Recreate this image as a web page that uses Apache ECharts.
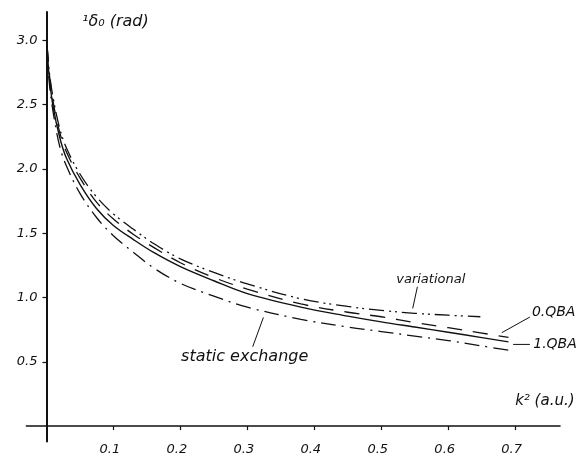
<!DOCTYPE html>
<html>
<head>
<meta charset="utf-8">
<script src="https://cdn.jsdelivr.net/npm/echarts@6/dist/echarts.min.js"></script>
<style>
  html, body { margin: 0; background: #fff; }
  #chart { width: 582px; height: 463px; }
</style>
</head>
<body>
<div id="chart"></div>
<script>
// k^2 (a.u.) sample points
var k2 = [0.001, 0.004, 0.01, 0.02, 0.03, 0.05, 0.075, 0.1, 0.13, 0.16, 0.2, 0.25, 0.3, 0.38, 0.45, 0.5, 0.55, 0.6, 0.648, 0.69];
// phase shift 1delta0 (rad) for each approximation
var qba1 = [2.95, 2.72, 2.48, 2.24, 2.08, 1.88, 1.69, 1.56, 1.45, 1.35, 1.24, 1.13, 1.03, 0.925, 0.855, 0.81, 0.77, 0.73, 0.69, 0.655];
var qba0 = [2.95, 2.75, 2.52, 2.28, 2.13, 1.93, 1.74, 1.61, 1.49, 1.39, 1.27, 1.155, 1.065, 0.95, 0.885, 0.85, 0.805, 0.765, 0.725, 0.69];
var variational = [2.95, 2.76, 2.55, 2.31, 2.16, 1.96, 1.78, 1.65, 1.53, 1.42, 1.30, 1.195, 1.105, 0.99, 0.93, 0.90, 0.877, 0.862, 0.85];
var staticEx = [2.95, 2.68, 2.44, 2.17, 2.02, 1.81, 1.62, 1.48, 1.35, 1.23, 1.11, 1.01, 0.925, 0.83, 0.77, 0.735, 0.70, 0.665, 0.625, 0.59];
// tick labels
var xTicks = [0.1, 0.2, 0.3, 0.4, 0.5, 0.6, 0.7];
var yTicks = [0.5, 1.0, 1.5, 2.0, 2.5, 3.0];

var font = 'DejaVu Sans';
var ink = '#111';

function pairs(xs, ys) {
  var out = [];
  for (var i = 0; i < ys.length; i++) out.push([xs[i], ys[i]]);
  return out;
}

function curve(name, ys, dash, width) {
  return {
    name: name,
    type: 'line',
    data: pairs(k2, ys),
    showSymbol: false,
    smooth: 0.35,
    silent: true,
    lineStyle: { color: ink, width: width, type: dash }
  };
}

var chart = echarts.init(document.getElementById('chart'));
chart.setOption({
  animation: false,
  backgroundColor: '#fff',
  grid: { left: 26.4, top: 12, width: 533.6, height: 429.5, containLabel: false, outerBoundsMode: 'none' },
  xAxis: {
    type: 'value',
    min: -0.03,
    max: 0.767,
    splitLine: { show: false },
    axisLine: { onZero: true, lineStyle: { color: ink, width: 1.6 } },
    axisTick: { customValues: xTicks, length: 4, lineStyle: { color: ink, width: 1.2 } },
    // labels sit at the grid edge, so pull them up under the zero line
    axisLabel: {
      customValues: xTicks, margin: 2, padding: [0, 7, 0, 0],
      color: ink, fontFamily: font, fontStyle: 'italic', fontSize: 13,
      formatter: function (v) { return v.toFixed(1); }
    }
  },
  yAxis: {
    type: 'value',
    min: -0.12,
    max: 3.22,
    splitLine: { show: false },
    axisLine: { onZero: true, lineStyle: { color: ink, width: 2 } },
    axisTick: { customValues: yTicks, length: 4, lineStyle: { color: ink, width: 1.2 } },
    axisLabel: {
      customValues: yTicks, margin: -11,
      color: ink, fontFamily: font, fontStyle: 'italic', fontSize: 13,
      formatter: function (v) { return v.toFixed(1); }
    }
  },
  series: [
    curve('1.QBA', qba1, 'solid', 1.4),
    curve('0.QBA', qba0, [15, 11], 1.3),
    curve('variational', variational, [15, 5, 2, 4, 2, 5], 1.3),
    curve('static exchange', staticEx, [15, 6, 2, 6], 1.3)
  ]
});

// annotations, positioned in data coordinates
function at(x, y) { return chart.convertToPixel({ gridIndex: 0 }, [x, y]); }

function label(text, x, y, size, align) {
  var p = at(x, y);
  return {
    type: 'text', x: p[0], y: p[1], silent: true,
    style: {
      text: text, fill: ink, font: 'italic ' + size + 'px "' + font + '"',
      align: align || 'left', verticalAlign: 'middle'
    }
  };
}

function leader(x1, y1, x2, y2) {
  var a = at(x1, y1), b = at(x2, y2);
  return {
    type: 'line', silent: true,
    shape: { x1: a[0], y1: a[1], x2: b[0], y2: b[1] },
    style: { stroke: ink, lineWidth: 1 }
  };
}

chart.setOption({
  graphic: [
    label('\u00b9\u03b4\u2080 (rad)', 0.053, 3.14, 16),
    label('k\u00b2 (a.u.)', 0.70, 0.194, 15),
    label('variational', 0.574, 1.135, 13, 'center'),
    leader(0.554, 1.083, 0.547, 0.915),
    label('0.QBA', 0.725, 0.881, 14),
    leader(0.68, 0.726, 0.722, 0.848),
    label('1.QBA', 0.727, 0.635, 14),
    leader(0.697, 0.635, 0.722, 0.635),
    label('static exchange', 0.201, 0.539, 16),
    leader(0.324, 0.845, 0.308, 0.617)
  ]
});
</script>
</body>
</html>
